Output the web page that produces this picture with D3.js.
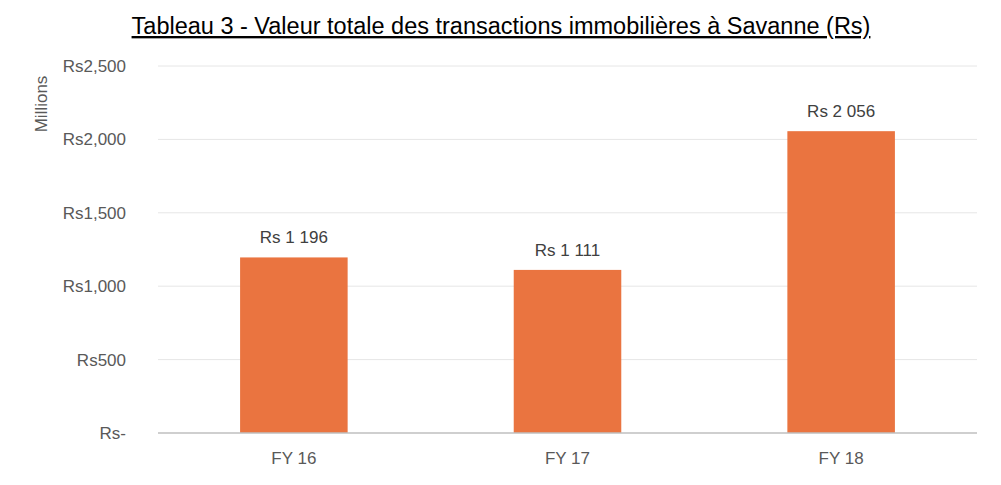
<!DOCTYPE html>
<html><head><meta charset="utf-8">
<script src="https://cdn.jsdelivr.net/npm/d3@7"></script>
<style>body{margin:0;background:#fff;font-family:"Liberation Sans",Arial,sans-serif}</style>
</head><body>
<svg id="chart" width="1001" height="485"></svg>
<script>
var categories = ["FY 16", "FY 17", "FY 18"];
var values = [1196, 1111, 2056];
var valueLabels = ["Rs 1 196", "Rs 1 111", "Rs 2 056"];
var yTicks = [0, 500, 1000, 1500, 2000, 2500];
var yTickLabels = ["Rs-", "Rs500", "Rs1,000", "Rs1,500", "Rs2,000", "Rs2,500"];

var svg = d3.select("#chart");
var plotLeft = 158, plotRight = 977, plotTop = 66, plotBottom = 433;

var x = d3.scaleBand().domain(categories).range([plotLeft, plotRight]).paddingInner(0.607).paddingOuter(0.3);
var y = d3.scaleLinear().domain([0, 2500]).range([plotBottom, plotTop]);

// gridlines
svg.selectAll(".grid").data(yTicks.slice(1)).enter().append("line")
  .attr("x1", plotLeft).attr("x2", plotRight)
  .attr("y1", d => y(d)).attr("y2", d => y(d))
  .attr("stroke", "#e6e6e6").attr("stroke-width", 1);

// bars
svg.selectAll(".bar").data(values).enter().append("rect")
  .attr("x", (d, i) => x(categories[i]))
  .attr("y", d => y(d))
  .attr("width", x.bandwidth())
  .attr("height", d => plotBottom - y(d))
  .attr("fill", "#ea7440");

// axis line
svg.append("line").attr("x1", plotLeft).attr("x2", plotRight).attr("y1", plotBottom).attr("y2", plotBottom)
  .attr("stroke", "#bfbfbf").attr("stroke-width", 1.5);

// y tick labels
svg.selectAll(".ylab").data(yTicks).enter().append("text")
  .attr("x", 126).attr("y", d => y(d) + 6)
  .attr("text-anchor", "end").attr("font-size", 17).attr("fill", "#595959")
  .text((d, i) => yTickLabels[i]);

// x labels
svg.selectAll(".xlab").data(categories).enter().append("text")
  .attr("x", d => x(d) + x.bandwidth() / 2).attr("y", 464)
  .attr("text-anchor", "middle").attr("font-size", 17).attr("fill", "#595959")
  .text(d => d);

// value labels
svg.selectAll(".vlab").data(values).enter().append("text")
  .attr("x", (d, i) => x(categories[i]) + x.bandwidth() / 2)
  .attr("y", d => y(d) - 14)
  .attr("text-anchor", "middle").attr("font-size", 17).attr("fill", "#404040")
  .text((d, i) => valueLabels[i]);

// y axis title
svg.append("text").attr("transform", "translate(47,104) rotate(-90)")
  .attr("text-anchor", "middle").attr("font-size", 17).attr("fill", "#595959")
  .text("Millions");

// title
svg.append("text").attr("x", 501).attr("y", 34)
  .attr("text-anchor", "middle").attr("font-size", 23.5).attr("fill", "#000")
  .attr("text-decoration", "underline")
  .text("Tableau 3 - Valeur totale des transactions immobilières à Savanne (Rs)");
</script>
</body></html>
